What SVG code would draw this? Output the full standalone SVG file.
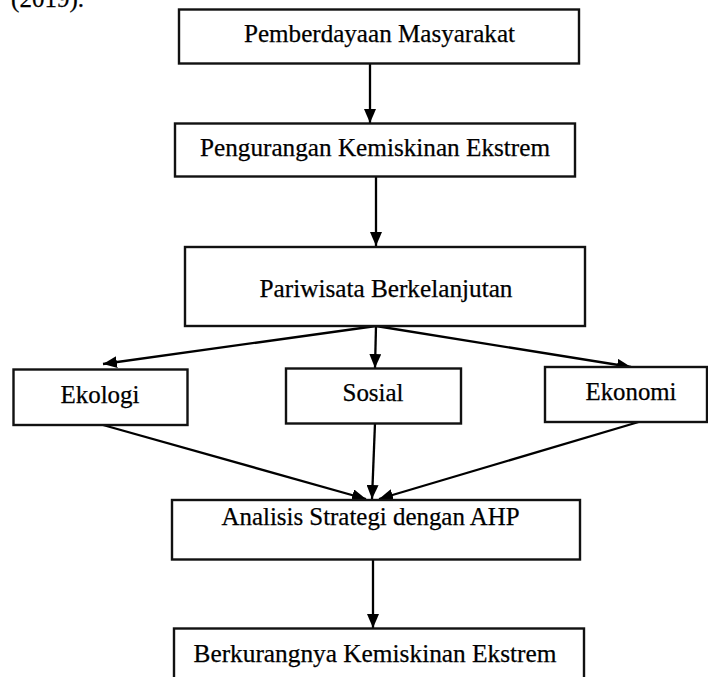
<svg xmlns="http://www.w3.org/2000/svg" width="708" height="677" viewBox="0 0 708 677">
<style>
.box{fill:#fff;stroke:#111;stroke-width:2.4}
.lbl{font-family:"Liberation Serif","Times New Roman",serif;font-size:25px;fill:#000;stroke:#000;stroke-width:0.25;text-anchor:middle}
.con{stroke:#000;stroke-width:2.3;fill:none;marker-end:url(#ah)}
</style>
<defs>
<marker id="ah" markerUnits="userSpaceOnUse" markerWidth="14" markerHeight="12" refX="14" refY="6" orient="auto">
<path d="M0,0 L14,6 L0,12 z" fill="#000"/>
</marker>
</defs>
<rect width="708" height="677" fill="#fff"/>
<text x="84" y="7" class="lbl" style="text-anchor:end">(2019).</text>
<g id="connectors">
<line class="con" x1="370" y1="64" x2="370" y2="123"/>
<line class="con" x1="376" y1="177" x2="376" y2="246"/>
<line class="con" x1="376" y1="326" x2="103" y2="364"/>
<line class="con" x1="376" y1="326" x2="375" y2="368"/>
<line class="con" x1="376" y1="326" x2="631" y2="367"/>
<line class="con" x1="103" y1="425" x2="366" y2="499"/>
<line class="con" x1="375" y1="423" x2="372" y2="499"/>
<line class="con" x1="642" y1="421" x2="379" y2="499"/>
<line class="con" x1="373" y1="560" x2="373" y2="628"/>
</g>
<g id="n1"><rect class="box" x="179" y="9.5" width="400" height="54"/><text class="lbl" x="379.5" y="42" textLength="271" lengthAdjust="spacingAndGlyphs">Pemberdayaan Masyarakat</text></g>
<g id="n2"><rect class="box" x="175" y="123.5" width="400" height="53"/><text class="lbl" x="375" y="156" textLength="350" lengthAdjust="spacingAndGlyphs">Pengurangan Kemiskinan Ekstrem</text></g>
<g id="n3"><rect class="box" x="185" y="247" width="400" height="79"/><text class="lbl" x="386" y="297" textLength="253" lengthAdjust="spacingAndGlyphs">Pariwisata Berkelanjutan</text></g>
<g id="n4"><rect class="box" x="13.5" y="369.5" width="174" height="55.5"/><text class="lbl" x="100" y="402.5" textLength="79" lengthAdjust="spacingAndGlyphs">Ekologi</text></g>
<g id="n5"><rect class="box" x="286" y="368.5" width="175" height="55"/><text class="lbl" x="373" y="401" textLength="61" lengthAdjust="spacingAndGlyphs">Sosial</text></g>
<g id="n6"><rect class="box" x="545" y="367" width="162" height="55"/><text class="lbl" x="631" y="400" textLength="91" lengthAdjust="spacingAndGlyphs">Ekonomi</text></g>
<g id="n7"><rect class="box" x="172" y="500" width="408" height="59.5"/><text class="lbl" x="370.5" y="525" textLength="298" lengthAdjust="spacingAndGlyphs">Analisis Strategi dengan AHP</text></g>
<g id="n8"><rect class="box" x="174" y="628.5" width="410" height="60"/><text class="lbl" x="375" y="661.5" textLength="363" lengthAdjust="spacingAndGlyphs">Berkurangnya Kemiskinan Ekstrem</text></g>
</svg>
